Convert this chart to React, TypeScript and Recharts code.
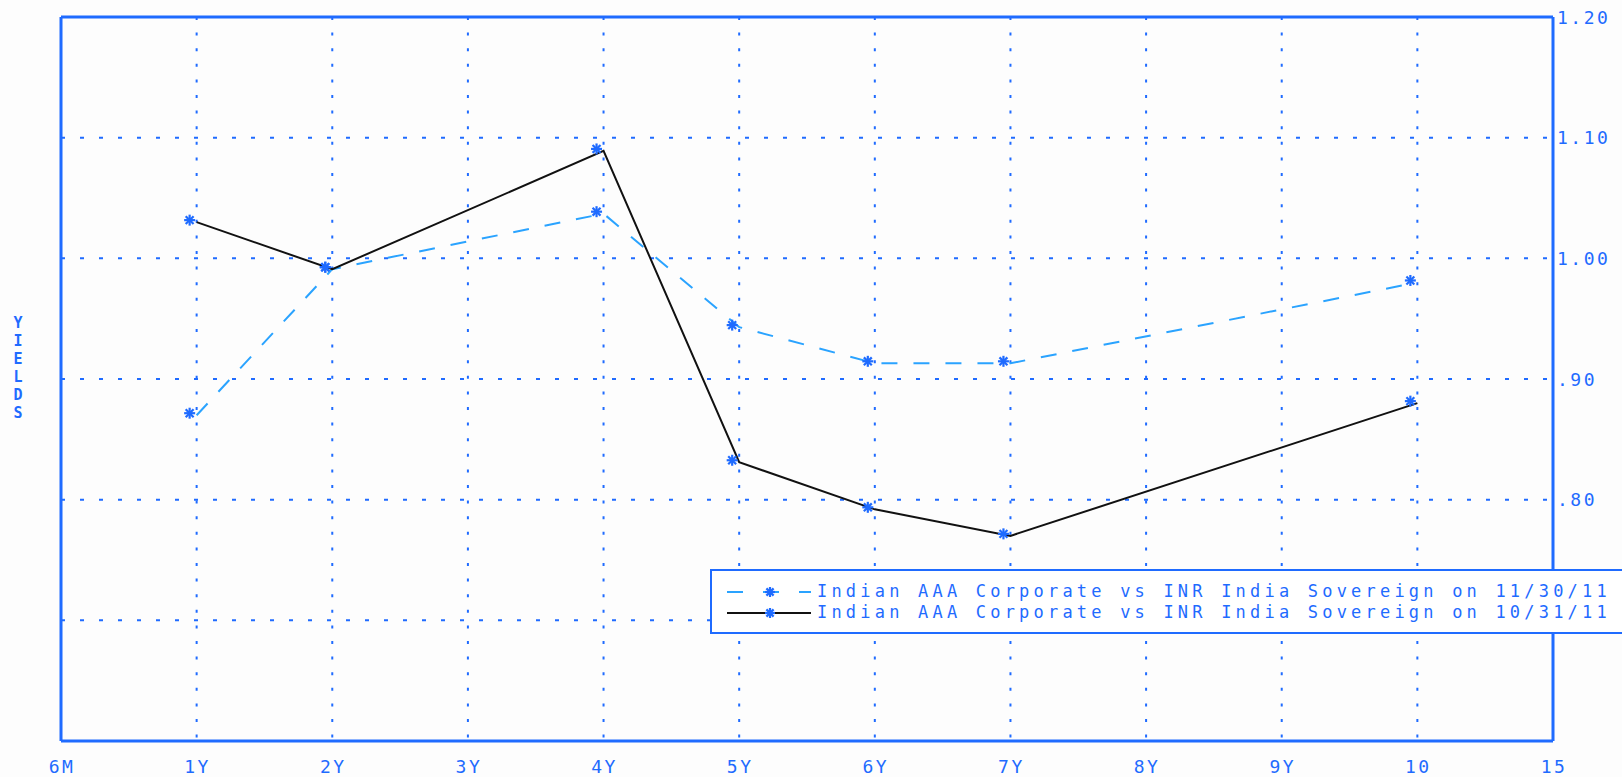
import React from "react";
import {
	LineChart,
	Line,
	XAxis,
	YAxis,
	CartesianGrid,
	ReferenceLine,
} from "recharts";

const tenorLabels = ["6M", "1Y", "2Y", "3Y", "4Y", "5Y", "6Y", "7Y", "8Y", "9Y", "10", "15"];
const tenors = ["1Y", "2Y", "4Y", "5Y", "6Y", "7Y", "10"];
const spreadNov = [0.87, 0.991, 1.037, 0.943, 0.913, 0.913, 0.98];
const spreadOct = [1.03, 0.991, 1.089, 0.831, 0.792, 0.77, 0.88];
const yTicks = [0.7, 0.8, 0.9, 1.0, 1.1, 1.2];
// .70 sits under the legend box in the original, so it gets no label
const hiddenYLabels = [0.7];

const seriesNames = [
	"Indian AAA Corporate vs INR India Sovereign on 11/30/11",
	"Indian AAA Corporate vs INR India Sovereign on 10/31/11",
];

const BLUE = "#1f6bff";
const LIGHT_BLUE = "#2aa3ff";
const W = 1622;
const H = 777;
const PLOT = { left: 61, right: 1553, top: 17, bottom: 741 };

const chartData = tenors.map((t, i) => ({
	x: tenorLabels.indexOf(t),
	nov: spreadNov[i],
	oct: spreadOct[i],
}));

function Star({ cx, cy, size = 5.5 }: { cx?: number; cy?: number; size?: number }) {
	if (cx == null || cy == null) return null;
	// glyph sits a little left of / above the vertex in the original
	const x = cx - 7;
	const y = cy - 2;
	const d = size * 0.72;
	return (
		<g stroke={BLUE} strokeWidth={2.2}>
			<line x1={x - size} y1={y} x2={x + size} y2={y} />
			<line x1={x} y1={y - size} x2={x} y2={y + size} />
			<line x1={x - d} y1={y - d} x2={x + d} y2={y + d} />
			<line x1={x - d} y1={y + d} x2={x + d} y2={y - d} />
		</g>
	);
}

const tickFont = {
	fontFamily: "'DejaVu Sans Mono', monospace",
	fontSize: 18,
	letterSpacing: 2.5,
	fill: BLUE,
};

function XTick({ x, payload }: any) {
	return (
		<text x={x + 1} y={773} textAnchor="middle" {...tickFont}>
			{tenorLabels[payload.value]}
		</text>
	);
}

function YTick({ y, payload }: any) {
	const v: number = payload.value;
	if (hiddenYLabels.includes(v)) return <g />;
	const label = v >= 1 ? v.toFixed(2) : "." + v.toFixed(2).slice(2);
	return (
		<text x={PLOT.right + 4} y={y + 6.5} textAnchor="start" {...tickFont}>
			{label}
		</text>
	);
}

function LegendBox() {
	const row = (dashed: boolean, name: string) => (
		<div style={{ display: "flex", alignItems: "center", height: 21 }}>
			<svg width={92} height={16} style={{ marginLeft: 13, marginRight: 0 }}>
				<line
					x1={2}
					y1={8}
					x2={86}
					y2={8}
					stroke={dashed ? LIGHT_BLUE : "#111"}
					strokeWidth={2}
					strokeDasharray={dashed ? "16 20" : undefined}
				/>
				<Star cx={52} cy={10} size={5} />
			</svg>
			<span>{name}</span>
		</div>
	);
	return (
		<div
			style={{
				position: "absolute",
				left: 710,
				top: 569,
				background: "#fff",
				border: `2px solid ${BLUE}`,
				width: 930,
				height: 65,
				boxSizing: "border-box",
				padding: "10px 0 0 0",
				fontFamily: "'DejaVu Sans Mono', monospace",
				fontSize: 17,
				letterSpacing: 4.2,
				color: BLUE,
				lineHeight: "21px",
				whiteSpace: "nowrap",
			}}
		>
			{row(true, seriesNames[0])}
			{row(false, seriesNames[1])}
		</div>
	);
}

export default function App() {
	return (
		<div
			style={{
				position: "absolute",
				left: 0,
				top: 0,
				width: W,
				height: H,
				background: "#fdfdfd",
				overflow: "hidden",
			}}
		>
			<LineChart
				width={W}
				height={H}
				data={chartData}
				margin={{ top: PLOT.top, right: 0, bottom: 0, left: PLOT.left }}
			>
				<CartesianGrid
					horizontal={false}
					stroke={BLUE}
					strokeWidth={2}
					strokeDasharray="3 12.6"
				/>
				<CartesianGrid
					vertical={false}
					stroke={BLUE}
					strokeWidth={2}
					strokeDasharray="4 15"
				/>
				<XAxis
					type="number"
					dataKey="x"
					domain={[0, 11]}
					ticks={tenorLabels.map((_, i) => i)}
					interval={0}
					height={H - PLOT.bottom}
					axisLine={{ stroke: BLUE, strokeWidth: 3 }}
					tickLine={false}
					tick={<XTick />}
				/>
				<YAxis
					orientation="right"
					type="number"
					domain={[0.6, 1.2]}
					ticks={yTicks}
					width={W - PLOT.right}
					axisLine={{ stroke: BLUE, strokeWidth: 3 }}
					tickLine={false}
					tick={<YTick />}
				/>
				<ReferenceLine y={1.2} stroke={BLUE} strokeWidth={3} />
				<ReferenceLine x={0} stroke={BLUE} strokeWidth={3} />
				<Line
					dataKey="nov"
					stroke={LIGHT_BLUE}
					strokeWidth={2}
					strokeDasharray="16 16"
					dot={<Star />}
					activeDot={false}
					isAnimationActive={false}
				/>
				<Line
					dataKey="oct"
					stroke="#111"
					strokeWidth={2}
					dot={<Star />}
					activeDot={false}
					isAnimationActive={false}
				/>
			</LineChart>
			<LegendBox />
			<div
				style={{
					position: "absolute",
					left: 10,
					top: 314,
					width: 16,
					textAlign: "center",
					fontFamily: "'DejaVu Sans Mono', monospace",
					fontSize: 15,
					fontWeight: "bold",
					lineHeight: "18px",
					color: BLUE,
				}}
			>
				{"YIELDS".split("").map((c, i) => (
					<div key={i}>{c}</div>
				))}
			</div>
		</div>
	);
}
